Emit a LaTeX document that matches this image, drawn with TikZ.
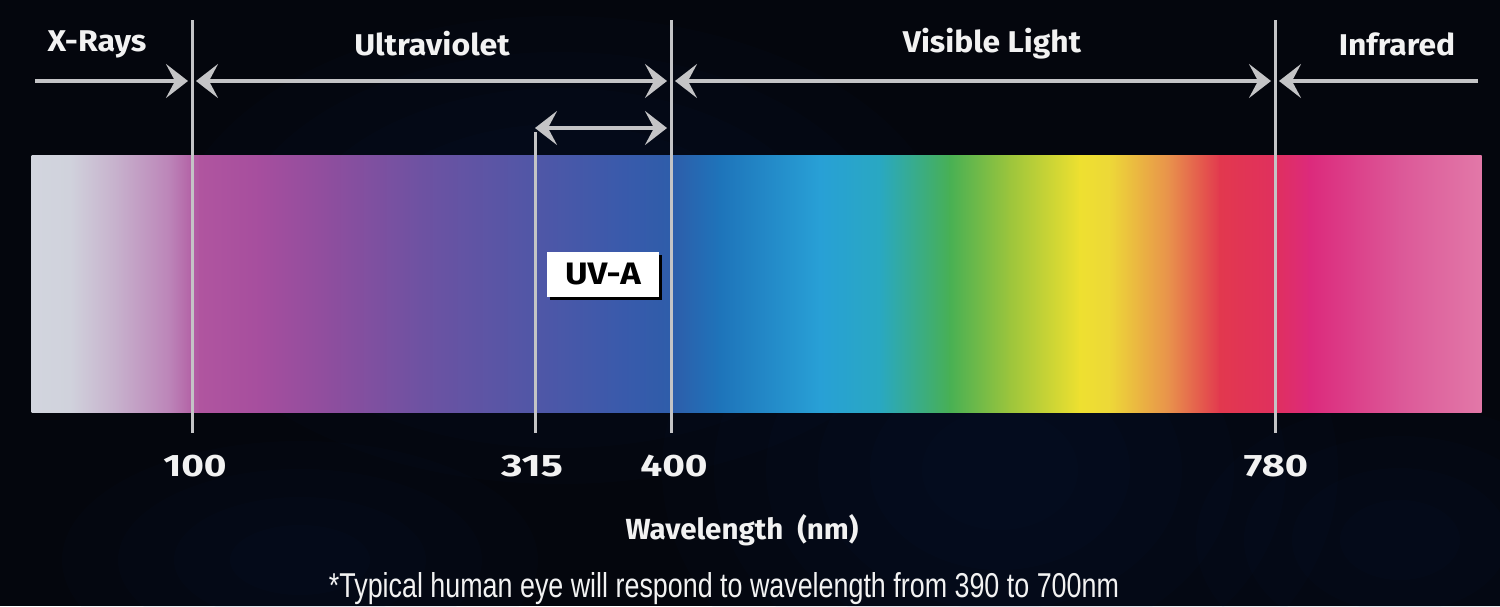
\documentclass[tikz,border=0pt]{standalone}
\usepackage{fontspec}
\setmainfont{Fira Sans}
\newfontfamily\notefont{Liberation Sans}
\usetikzlibrary{arrows.meta,calc}
\newcommand\widetext[2]{\scalebox{#1}[1]{#2}}
\definecolor{bg}{HTML}{04060D}
\definecolor{haze}{HTML}{1A3260}
\definecolor{linegray}{HTML}{C4C4C6}
\definecolor{txt}{HTML}{F2F2F2}
\definecolor{s0}{HTML}{D2D5DE}
\definecolor{s1}{HTML}{D0D2DC}
\definecolor{s2}{HTML}{C6AECB}
\definecolor{s3}{HTML}{BC84B8}
\definecolor{s4}{HTML}{B0559F}
\definecolor{s5}{HTML}{A64E9E}
\definecolor{s6}{HTML}{8E4E9E}
\definecolor{s7}{HTML}{6E52A2}
\definecolor{s8}{HTML}{5456A6}
\definecolor{s9}{HTML}{3A5AAB}
\definecolor{s10}{HTML}{2E5DAA}
\definecolor{s11}{HTML}{1E74BA}
\definecolor{s12}{HTML}{28A0D6}
\definecolor{s13}{HTML}{29A8C2}
\definecolor{s14}{HTML}{48B054}
\definecolor{s15}{HTML}{9CC53C}
\definecolor{s16}{HTML}{EEE030}
\definecolor{s17}{HTML}{EDD838}
\definecolor{s18}{HTML}{E8904C}
\definecolor{s19}{HTML}{E2384E}
\definecolor{s20}{HTML}{E0305E}
\definecolor{s21}{HTML}{DC2A7C}
\definecolor{s22}{HTML}{DC5898}
\definecolor{s23}{HTML}{E278A8}
\begin{document}
\begin{tikzpicture}[x=1pt,y=-1pt,
  >={Stealth[length=22pt,width=34pt,inset=9pt]},
  guide/.style={draw=linegray, line width=3pt},
  dimarrow/.style={draw=linegray, line width=4pt, shorten >=4pt, shorten <=4pt},
  glow/.style={fill=haze, opacity=0.045},
  lbl/.style={text=txt, font=\bfseries\fontsize{30}{30}\selectfont, inner sep=0pt},
  num/.style={text=txt, font=\bfseries\fontsize{31}{31}\selectfont, inner sep=0pt},
  axis/.style={text=txt, font=\bfseries\fontsize{23}{23}\selectfont, inner sep=0pt},
  note/.style={text=txt, inner sep=0pt},
  tag/.style={fill=white, text=black, font=\bfseries\fontsize{31}{31}\selectfont,
    minimum width=112pt, minimum height=45pt, inner sep=0pt}]
\useasboundingbox (0,0) rectangle (1500,606);
\fill[bg] (0,0) rectangle (1500,606);
% faint background haze
\foreach \r in {60,100,140,180,220,260}{
  \fill[glow] (1000,470) ellipse ({1.3*\r} and \r);
  \fill[glow] (560,250) ellipse ({1.5*\r} and {0.9*\r});
}
\foreach \r in {50,90,130,170}{
  \fill[glow] (300,560) ellipse ({1.4*\r} and {0.7*\r});
  \fill[glow] (1400,540) ellipse ({1.2*\r} and {0.8*\r});
}
% spectrum bar
\foreach \xa/\ca/\xb/\cb in {32/s0/70/s1, 70/s1/120/s2, 120/s2/170/s3, 170/s3/200/s4,
  200/s4/260/s5, 260/s5/330/s6, 330/s6/420/s7, 420/s7/520/s8, 520/s8/620/s9,
  620/s9/672/s10, 672/s10/720/s11, 720/s11/820/s12, 820/s12/880/s13, 880/s13/950/s14,
  950/s14/1010/s15, 1010/s15/1080/s16, 1080/s16/1110/s17, 1110/s17/1170/s18,
  1170/s18/1220/s19, 1220/s19/1275/s20, 1275/s20/1310/s21, 1310/s21/1400/s22,
  1400/s22/1481/s23}
  \shade[left color=\ca, right color=\cb] (\xa-0.5,155) rectangle (\xb+0.5,412);
% boundary lines
\coordinate (b100t) at (192,20);  \coordinate (b100b) at (192,433);
\coordinate (b400t) at (671,20);  \coordinate (b400b) at (671,433);
\coordinate (b780t) at (1275,20); \coordinate (b780b) at (1275,433);
\coordinate (b315t) at (535,132); \coordinate (b315b) at (535,433);
\draw[guide] (b100t) -- (b100b);
\draw[guide] (b400t) -- (b400b);
\draw[guide] (b780t) -- (b780b);
\draw[guide] (b315t) -- (b315b);
% range arrows
\coordinate (xleft) at (31,81);
\coordinate (irright) at (1482,81);
\draw[dimarrow,->] (xleft) -- (b100t |- xleft);
\draw[dimarrow,<->] (b100t |- xleft) -- (b400t |- xleft);
\draw[dimarrow,<->] (b400t |- xleft) -- (b780t |- xleft);
\draw[dimarrow,<-] (b780t |- xleft) -- (irright);
\coordinate (uva) at (535,128);
\draw[dimarrow,<->,shorten <=0pt] (uva) -- (b400t |- uva);
% labels
\node[lbl] (lx) at (97,44) {\widetext{1.07}{X-Rays}};
\node[lbl] (lu) at (432,44) {\widetext{1.07}{Ultraviolet}};
\node[lbl] (lv) at (992,44) {\widetext{1.06}{Visible Light}};
\node[lbl] (li) at (1397,44) {\widetext{1.06}{Infrared}};
% numbers
\node[num] (n100) at (195,466) {\widetext{1.25}{100}};
\node[num] (n315) at (532,466) {\widetext{1.33}{315}};
\node[num] (n400) at (674,466) {\widetext{1.25}{400}};
\node[num] (n780) at (1276,466) {\widetext{1.28}{780}};
% UV-A tag
\fill[black] (550,255) rectangle (662,300);
\node[tag] (uvat) at (603,274) {\widetext{1.12}{UV-A}};
% axis title and footnote
\node[axis] (ax) at (742,530) {\resizebox{233pt}{25pt}{Wavelength\ \ (nm)}};
\node[note] (fn) at (724,589) {\resizebox{790pt}{25pt}{\notefont *Typical human eye will respond to wavelength from 390 to 700nm}};
\end{tikzpicture}
\end{document}
